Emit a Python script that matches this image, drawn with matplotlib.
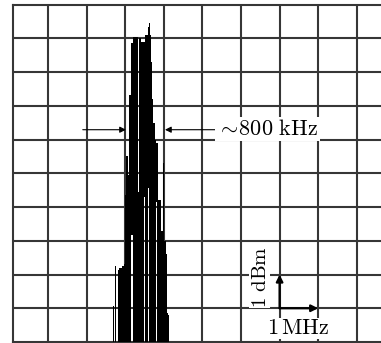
import matplotlib
matplotlib.use("Agg")
import matplotlib.pyplot as plt

plt.rcParams['mathtext.fontset'] = 'cm'

# Spectrum trace columns: frequency (MHz, grid units), top level and bottom level (dB above screen bottom)
freq = [2.658, 2.684, 2.710, 2.736, 2.762, 2.788,
        2.813, 2.839, 2.865, 2.891, 2.917, 2.943, 2.969, 2.995, 3.021, 3.047,
        3.073, 3.098, 3.124, 3.150, 3.176, 3.202, 3.228, 3.254, 3.280, 3.306,
        3.332, 3.358, 3.383, 3.409, 3.435, 3.461, 3.487, 3.513, 3.539, 3.565,
        3.591, 3.617, 3.642, 3.668, 3.694, 3.720, 3.746, 3.772, 3.798, 3.824,
        3.850, 3.876, 3.902, 3.927, 3.953, 3.979, 4.005, 4.031, 4.057, 4.083,
        4.109, 4.135]
top = [0, 1.06, 0, 2.24, 0, 0,
       2.09, 2.14, 2.20, 2.20, 2.26, 2.26, 2.30, 4.36, 5.50, 5.50,
       4.95, 4.95, 7.32, 7.32, 8.85, 9.05, 9.05, 9.05, 9.05, 9.05,
       4.45, 9.00, 9.00, 9.00, 8.90, 8.90, 8.90, 9.10, 9.10, 9.10,
       9.33, 9.45, 9.49, 9.10, 8.30, 7.20, 6.50, 6.00, 5.90, 5.90,
       4.20, 4.20, 4.20, 6.80, 3.30, 3.30, 5.30, 3.00, 2.60, 0.85,
       0.80, 0]
bottom = [0, 0, 0, 0, 0, 0,
          0, 0, 0, 0, 0, 0, 0, 0, 0, 0,
          0, 0, 0, 0, 3.18, 0, 0, 0, 0, 0,
          0, 0, 0, 0, 0, 0, 4.30, 0, 0, 0,
          4.57, 0, 0, 0, 0, 0, 0, 0, 4.15, 0,
          0, 0, 0, 0, 0, 0, 0, 0, 0, 0,
          0, 0]

grid_x = [1, 2, 3, 4, 5, 6, 7, 8, 9]
grid_y = [1, 2, 3, 4, 5, 6, 7, 8, 9]

bw_label = r'$\sim\!800\ \mathrm{kHz}$'
bw_left_tip, bw_right_tip, bw_level = 3.02, 4.03, 6.29
bw_left_tail, bw_right_tail = 1.90, 5.33
scale_x0, scale_y0 = 7, 1
dbm_label = r'$1\ \mathrm{dBm}$'
mhz_label = r'$1\,\mathrm{MHz}$'

fig = plt.figure(figsize=(3.81, 3.43), dpi=100)
ax = fig.add_axes([13 / 381, 1 / 343, 1 - 13 / 381, (342 - 4.5) / 343 * 1.0])
ax.set_xlim(0.093, 9.627)
ax.set_ylim(0, 10)

gcol = '#363636'
for gx in grid_x:
    ax.axvline(gx, color=gcol, lw=1.5, zorder=1)
for gy in grid_y:
    ax.axhline(gy, color=gcol, lw=1.5, zorder=1)
for side in ['left', 'top', 'bottom']:
    ax.spines[side].set_color(gcol)
    ax.spines[side].set_linewidth(1.5)
ax.spines['right'].set_visible(False)
ax.set_xticks([])
ax.set_yticks([])

ax.fill_between(freq, bottom, top, step='mid', color='black', lw=0, zorder=3)

# ~800 kHz marker
ax.annotate('', xy=(bw_left_tip, bw_level), xytext=(bw_left_tail, bw_level),
            arrowprops=dict(arrowstyle='-|>', color='black', lw=0.8,
                            mutation_scale=9, shrinkA=0, shrinkB=0), zorder=4)
ax.annotate('', xy=(bw_right_tip, bw_level), xytext=(bw_right_tail, bw_level),
            arrowprops=dict(arrowstyle='-|>', color='black', lw=0.8,
                            mutation_scale=9, shrinkA=0, shrinkB=0), zorder=4)
ax.text(bw_right_tail + 0.04, bw_level + 0.02, bw_label, fontsize=16,
        ha='left', va='center', zorder=5,
        bbox=dict(facecolor='white', edgecolor='none', pad=1.5))

# scale markers
ax.annotate('', xy=(scale_x0, scale_y0 + 1), xytext=(scale_x0, scale_y0),
            arrowprops=dict(arrowstyle='-|>', color='black', lw=1.6,
                            mutation_scale=10, shrinkA=0, shrinkB=0), zorder=4)
ax.annotate('', xy=(scale_x0 + 1, scale_y0), xytext=(scale_x0, scale_y0),
            arrowprops=dict(arrowstyle='-|>', color='black', lw=1.6,
                            mutation_scale=10, shrinkA=0, shrinkB=0), zorder=4)
ax.text(scale_x0 - 0.52, scale_y0 + 0.93, dbm_label, fontsize=15, rotation=90,
        ha='center', va='center', zorder=5,
        bbox=dict(facecolor='white', edgecolor='none', pad=0.5))
ax.text(scale_x0 + 0.49, scale_y0 - 0.6, mhz_label, fontsize=16,
        ha='center', va='center', zorder=5,
        bbox=dict(facecolor='white', edgecolor='none', pad=0.5))

fig.savefig('out.png', dpi=100)
